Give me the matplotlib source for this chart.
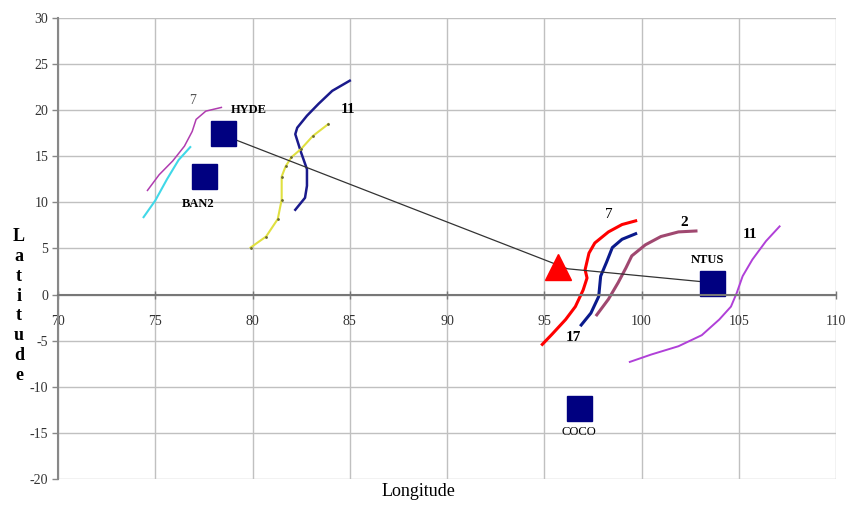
from matplotlib import pyplot as plt

# Trayectorias (longitud, latitud)
lon_magenta = [74.6, 75.2, 75.9, 76.5, 76.9, 77.1, 77.6, 78.4]
lat_magenta = [11.3, 13.0, 14.5, 16.1, 17.7, 19.0, 19.9, 20.3]

lon_cian = [74.4, 75.0, 75.6, 76.2, 76.8]
lat_cian = [8.4, 10.2, 12.5, 14.6, 16.0]

lon_azul1 = [82.2, 82.7, 82.8, 82.8, 82.5, 82.2, 82.3, 82.8, 83.4, 84.1, 85.0]
lat_azul1 = [9.2, 10.5, 11.8, 13.6, 15.4, 17.4, 18.1, 19.4, 20.7, 22.1, 23.2]

lon_amarillo = [79.9, 80.7, 81.3, 81.5, 81.5, 81.7, 82.0, 82.5, 83.1, 83.9]
lat_amarillo = [5.1, 6.3, 8.2, 10.3, 12.8, 13.9, 14.9, 15.8, 17.2, 18.5]

lon_rojo = [94.9, 95.4, 96.1, 96.6, 97.0, 97.2, 97.1, 97.3, 97.6, 98.3, 99.0, 99.7]
lat_rojo = [-5.4, -4.3, -2.7, -1.3, 0.5, 1.8, 2.7, 4.5, 5.6, 6.8, 7.6, 8.0]

lon_azul2 = [96.9, 97.4, 97.8, 97.9, 98.2, 98.5, 99.0, 99.7]
lat_azul2 = [-3.3, -2.0, -0.2, 2.0, 3.5, 5.1, 6.0, 6.6]

lon_malva = [97.7, 98.3, 98.8, 99.2, 99.5, 100.2, 101.0, 101.9, 102.8]
lat_malva = [-2.2, -0.5, 1.3, 2.9, 4.2, 5.4, 6.3, 6.8, 6.9]

lon_violeta = [99.4, 100.5, 101.9, 103.1, 104.0, 104.6, 104.9, 105.2, 105.7, 106.4, 107.1]
lat_violeta = [-7.3, -6.5, -5.6, -4.4, -2.7, -1.3, 0.2, 2.0, 3.8, 5.8, 7.4]

# Estaciones
estaciones = ['HYDE', 'BAN2', 'NTUS', 'COCO']
lon_est = [78.5, 77.5, 103.6, 96.8]
lat_est = [17.5, 12.9, 1.3, -12.3]

# Linea de union
lon_linea = [78.5, 96.2, 103.6]
lat_linea = [17.3, 2.8, 1.3]

lon_tri, lat_tri = 95.7, 3.0

plt.rcParams['font.family'] = ['Liberation Serif', 'DejaVu Serif']
plt.rcParams['axes.unicode_minus'] = False

fig = plt.figure(figsize=(8.46, 5.05), dpi=100)
ax = fig.add_axes([58/846, 26/505, 778/846, 461/505])

ax.plot(lon_magenta, lat_magenta, color='#b03cb0', lw=1.1)
ax.plot(lon_cian, lat_cian, color='#40d8e8', lw=1.5)
ax.plot(lon_azul1, lat_azul1, color='#1a1a8c', lw=1.8)
ax.plot(lon_amarillo, lat_amarillo, color='#e0e040', lw=1.5,
        marker='.', ms=2, mfc='#6b6b30', mec='#6b6b30')
ax.plot(lon_rojo, lat_rojo, color='#ff0000', lw=2.2)
ax.plot(lon_azul2, lat_azul2, color='#0a1a8c', lw=2.2)
ax.plot(lon_malva, lat_malva, color='#a04870', lw=2.2)
ax.plot(lon_violeta, lat_violeta, color='#b040d8', lw=1.4)

ax.plot(lon_linea, lat_linea, color='#333333', lw=0.9)
ax.plot(lon_est, lat_est, 's', color='#000080', ms=18, ls='none')
ax.plot(lon_tri, lat_tri, '^', color='#ff0000', ms=19)

# Etiquetas
ax.text(79.8, 20.0, 'HYDE', fontsize=9, fontweight='bold', ha='center', va='center')
ax.text(77.2, 9.8, 'BAN2', fontsize=9, fontweight='bold', ha='center', va='center')
ax.text(103.4, 3.8, 'NTUS', fontsize=9, fontweight='bold', ha='center', va='center')
ax.text(96.8, -14.9, 'COCO', fontsize=9, ha='center', va='center')
ax.text(76.9, 21.1, '7', fontsize=10, color='#555555', ha='center', va='center')
ax.text(84.9, 20.1, '11', fontsize=11, fontweight='bold', ha='center', va='center')
ax.text(98.3, 8.7, '7', fontsize=11, ha='center', va='center')
ax.text(102.2, 7.8, '2', fontsize=11, fontweight='bold', ha='center', va='center')
ax.text(105.6, 6.5, '11', fontsize=11, fontweight='bold', ha='center', va='center')
ax.text(96.5, -4.7, '17', fontsize=11, fontweight='bold', ha='center', va='center')

ax.set_xlim(70, 110)
ax.set_ylim(-20, 30)
ax.set_xticks(range(70, 111, 5))
ax.set_yticks(range(-20, 31, 5))
ax.grid(True, color='#c0c0c0', lw=1)
ax.set_axisbelow(True)

ax.spines['bottom'].set_position(('data', 0))
ax.spines['bottom'].set_color('#777777')
ax.spines['bottom'].set_linewidth(1.5)
ax.spines['left'].set_color('#888888')
ax.spines['left'].set_linewidth(1.5)
ax.spines['top'].set_visible(False)
ax.spines['right'].set_visible(False)
ax.tick_params(axis='x', direction='inout', length=6, width=1, colors='#777777',
               labelcolor='#333333', labelsize=10, pad=12)
ax.tick_params(axis='y', direction='out', length=4, width=1, colors='#888888',
               labelcolor='#333333', labelsize=10, pad=3)

fig.text(418/846, 1 - 492/505, 'Longitude', fontsize=13, ha='center', va='center')
fig.text(19/846, 1 - 306/505, '\n'.join('Latitude'), fontsize=13, fontweight='bold',
         ha='center', va='center', linespacing=1.22)

plt.savefig('out.png', dpi=100)
